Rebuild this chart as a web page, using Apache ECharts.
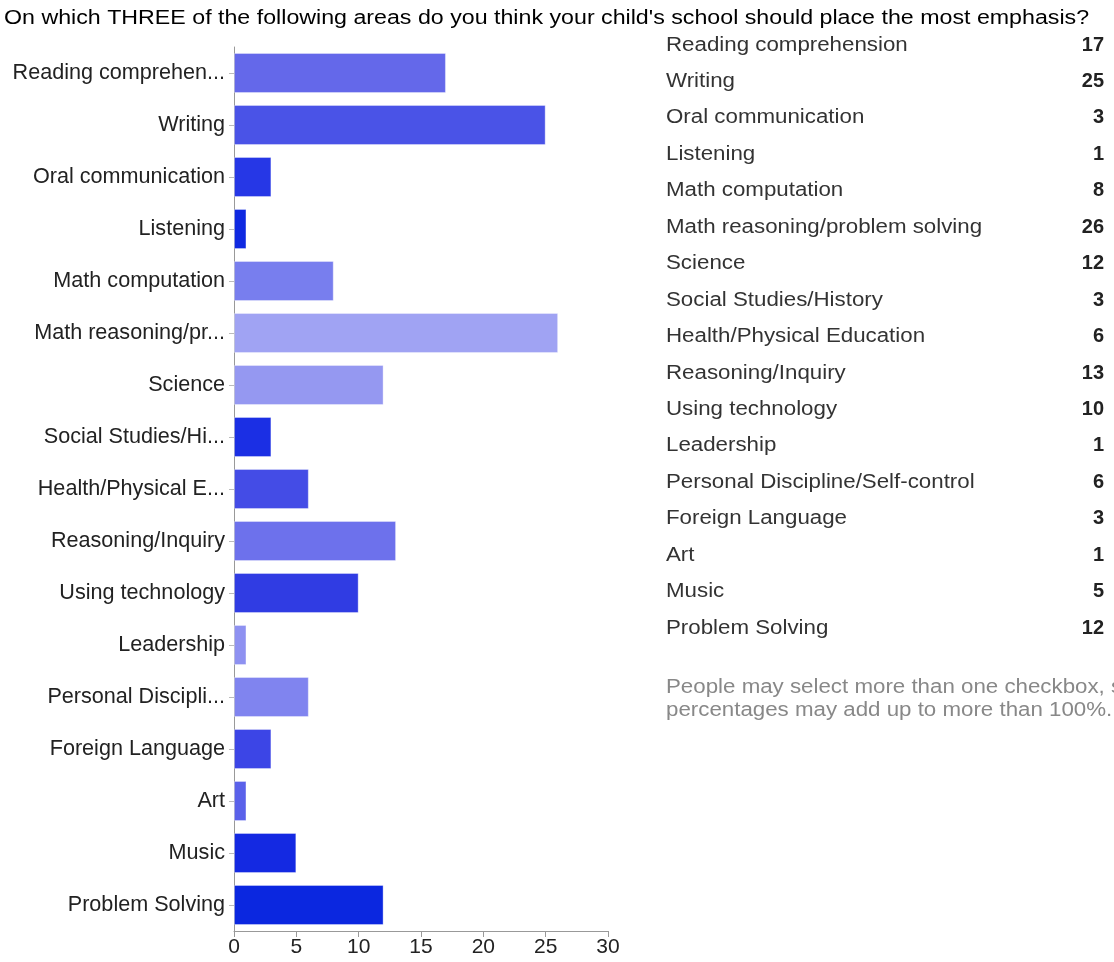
<!DOCTYPE html>
<html>
<head>
<meta charset="utf-8">
<script src="https://cdn.jsdelivr.net/npm/echarts@6/dist/echarts.min.js"></script>
<style>
  html, body { margin: 0; padding: 0; background: #fff; }
  #chart { width: 1114px; height: 962px; }
</style>
</head>
<body>
<div id="chart"></div>
<script>
// Survey question and answer options
const title = "On which THREE of the following areas do you think your child's school should place the most emphasis?";
const categories = [
  'Reading comprehension', 'Writing', 'Oral communication', 'Listening',
  'Math computation', 'Math reasoning/problem solving', 'Science',
  'Social Studies/History', 'Health/Physical Education', 'Reasoning/Inquiry',
  'Using technology', 'Leadership', 'Personal Discipline/Self-control',
  'Foreign Language', 'Art', 'Music', 'Problem Solving'
];
// Shortened names shown next to the bars
const axisLabels = [
  'Reading comprehen...', 'Writing', 'Oral communication', 'Listening',
  'Math computation', 'Math reasoning/pr...', 'Science',
  'Social Studies/Hi...', 'Health/Physical E...', 'Reasoning/Inquiry',
  'Using technology', 'Leadership', 'Personal Discipli...',
  'Foreign Language', 'Art', 'Music', 'Problem Solving'
];
// Number of responses per option
const counts = [17, 25, 3, 1, 8, 26, 12, 3, 6, 13, 10, 1, 6, 3, 1, 5, 12];
const xTicks = [0, 5, 10, 15, 20, 25, 30];
const note = ['People may select more than one checkbox, so', 'percentages may add up to more than 100%.'];

// One shade of blue per bar
const palette = [
  '#6468ea', '#4a53e7', '#2637e6', '#0f29e1', '#787eee', '#a0a3f3', '#9598f1',
  '#1b2fe4', '#444ce6', '#6d71ec', '#303ce3', '#8e91f1', '#8084ef',
  '#3c45e6', '#5a61ea', '#1429e2', '#0b27e0'
];

const FONT = '"Liberation Sans", Arial, sans-serif';
const chart = echarts.init(document.getElementById('chart'));

// Title and the summary table are slightly widened text
const graphics = [{
  type: 'text', x: 4, y: 8, scaleX: 1.16, originX: 0,
  style: { text: title, fontFamily: FONT, fontSize: 20, fill: '#000' }
}];
const rowTop = 35, rowStep = 36.45;
categories.forEach((name, i) => {
  graphics.push({
    type: 'text', x: 666, y: rowTop + i * rowStep, scaleX: 1.115, originX: 0,
    style: { text: name, fontFamily: FONT, fontSize: 20, fill: '#333' }
  });
  graphics.push({
    type: 'text', x: 1104, y: rowTop + i * rowStep,
    style: { text: String(counts[i]), fontFamily: FONT, fontSize: 20, fontWeight: 'bold', fill: '#222', align: 'right' }
  });
});
note.forEach((line, i) => {
  graphics.push({
    type: 'text', x: 666, y: 677 + i * 23, scaleX: 1.115, originX: 0,
    style: { text: line, fontFamily: FONT, fontSize: 20, fill: '#888' }
  });
});

chart.setOption({
  animation: false,
  backgroundColor: '#fff',
  grid: { left: 234, right: 506, top: 47, bottom: 31, containLabel: false },
  xAxis: {
    type: 'value', min: 0, max: 30, interval: 5,
    axisLine: { show: true, lineStyle: { color: '#999', width: 1 } },
    axisTick: { show: true, length: 6, lineStyle: { color: '#999' } },
    splitLine: { show: false },
    axisLabel: {
      color: '#222', fontFamily: FONT, fontSize: 21, margin: 6,
      formatter: v => xTicks.includes(v) ? String(v) : ''
    }
  },
  yAxis: {
    type: 'category', inverse: true, data: axisLabels,
    axisLine: { show: true, lineStyle: { color: '#999', width: 1 } },
    axisTick: { show: true, alignWithLabel: true, length: 5, lineStyle: { color: '#bbb' } },
    axisLabel: { color: '#222', fontFamily: FONT, fontSize: 21.6, margin: 9 }
  },
  series: [{
    type: 'bar',
    barCategoryGap: '23%',
    data: counts.map((v, i) => ({
      value: v,
      itemStyle: { color: palette[i], borderColor: 'rgba(255,255,255,0.35)', borderWidth: 1 }
    }))
  }],
  graphic: graphics
});
</script>
</body>
</html>
